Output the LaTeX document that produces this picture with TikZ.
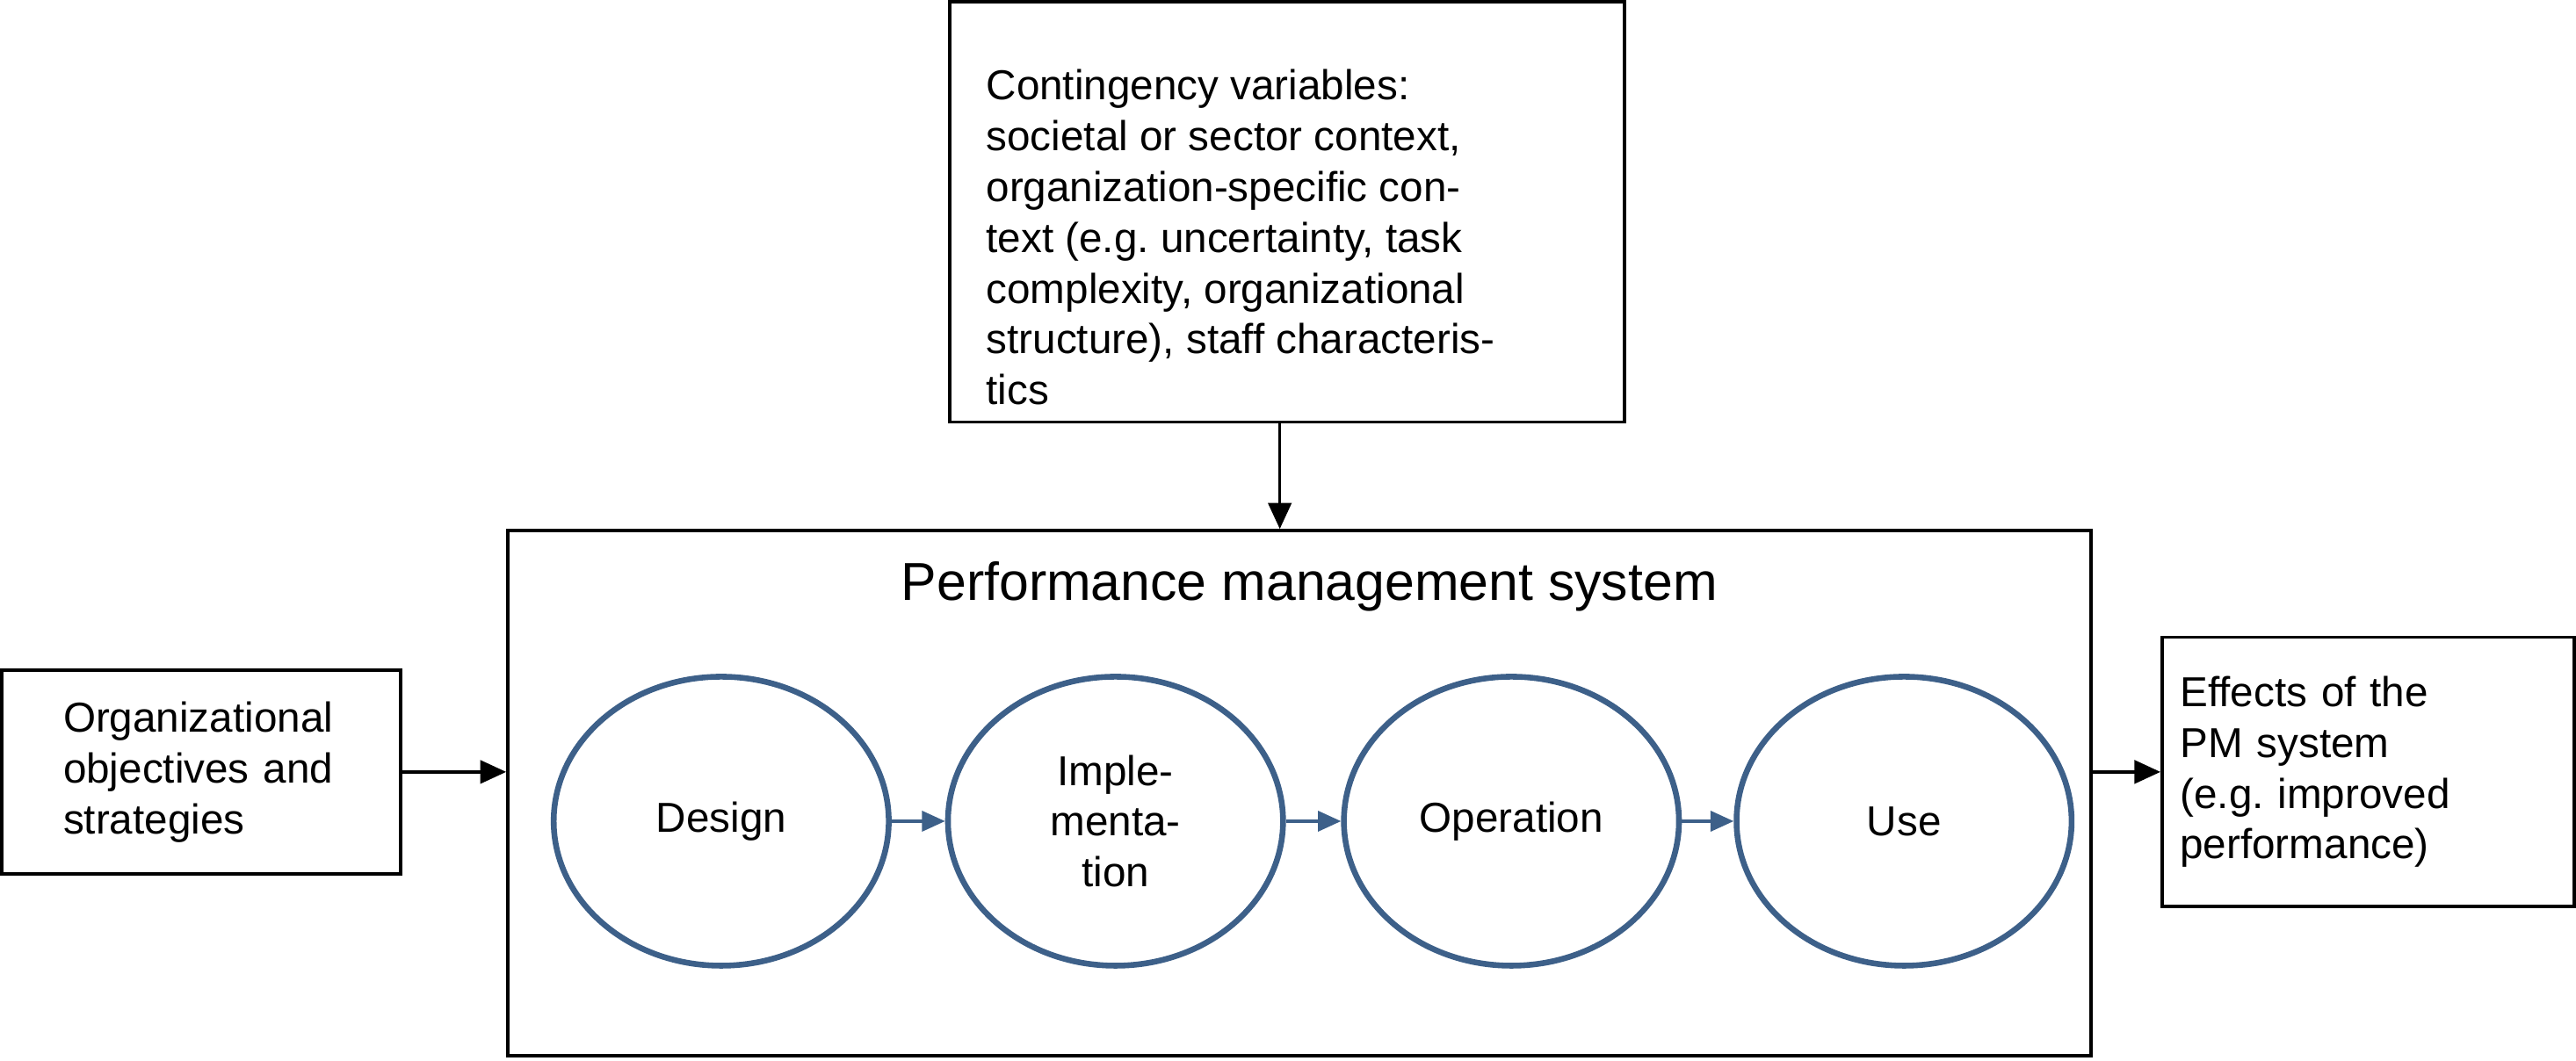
\documentclass[tikz,border=0pt]{standalone}
\usepackage{fontspec}
\setmainfont{Liberation Sans}
\usetikzlibrary{arrows.meta,shapes.geometric}
\begin{document}
\frenchspacing
\begin{tikzpicture}[x=0.02cm,y=-0.02cm,
  box/.style={draw,line width=1.1pt,inner sep=0pt,font=\fontsize{14.5}{17.6}\selectfont,align=left},
  txt/.style={inner sep=0pt,font=\fontsize{14.5}{17.6}\selectfont,align=left},
  circ/.style={draw=circ,line width=2pt,ellipse,minimum width=4.08cm,minimum height=3.52cm,inner sep=0pt,font=\fontsize{14.5}{17.6}\selectfont,align=center},
  arr/.style={line width=1.1pt,-{Triangle[length=9pt,width=8pt]}},
  barr/.style={draw=circ,line width=1.1pt,-{Triangle[length=8pt,width=7pt]},color=circ}]
\definecolor{circ}{HTML}{3D6089}
\useasboundingbox (0,0) rectangle (1568,646);
\node[box,minimum width=8.22cm,minimum height=5.12cm] (top) at (783.5,129) {};
\node[txt,anchor=north west] (toptext) at (600,42)
 {Contingency variables:\\societal or sector context,\\organization-specific con-\\text (e.g. uncertainty, task\\complexity, organizational\\structure), staff characteris-\\tics};
\coordinate (topout) at (779,257);
\node[box,minimum width=19.28cm,minimum height=6.4cm] (main) at (791,483) {};
\node[font=\fontsize{18.5}{22}\selectfont] (title) at (797,357) {Performance management system};
\node[box,minimum width=4.86cm,minimum height=2.48cm,text width=4.86cm] (left) at (122.5,470)
 {\hspace*{0.75cm}\parbox{4cm}{Organizational\\objectives and\\strategies}};
\node[box,minimum width=5.02cm,minimum height=3.28cm,text width=5.02cm] (right) at (1441.5,470)
 {\hspace*{0.22cm}\parbox{4.7cm}{Effects of the\\PM system\\(e.g. improved\\performance)}};
\node[circ] (c1) at (439,500) {Design};
\node[circ] (c2) at (679,500) {Imple-\\menta-\\tion};
\node[circ] (c3) at (920,500) {Operation};
\node[circ] (c4) at (1159,500) {Use};
\draw[arr] (topout) -- (main.north -| topout);
\draw[arr] (left.east) -- (left.east -| main.west);
\draw[arr] (right.west -| main.east) -- (right.west);
\draw[barr] (c1.east) -- (c2.west);
\draw[barr] (c2.east) -- (c3.west);
\draw[barr] (c3.east) -- (c4.west);
\end{tikzpicture}
\end{document}
